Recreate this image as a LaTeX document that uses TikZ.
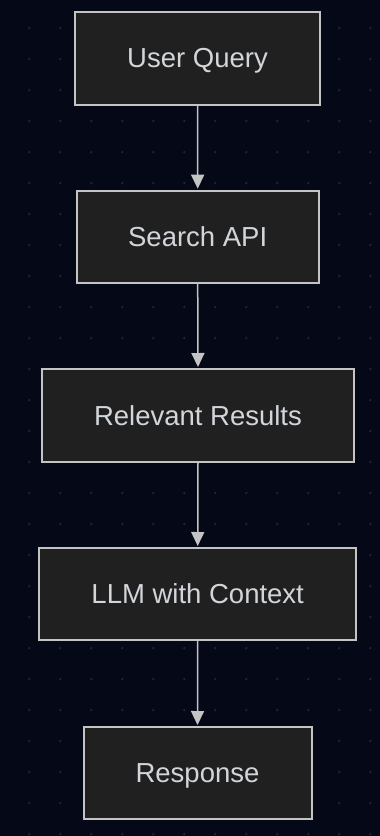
\documentclass[tikz,border=0pt]{standalone}
\usepackage{fontspec}
\setmainfont{Liberation Sans}
\usetikzlibrary{arrows.meta}
\definecolor{bgc}{HTML}{050816}
\definecolor{dotc}{HTML}{22252F}
\definecolor{boxc}{HTML}{202020}
\definecolor{edgec}{HTML}{C4C4C4}
\definecolor{txtc}{HTML}{D2D6DA}
\begin{document}
\begin{tikzpicture}[x=1pt,y=-1pt,
  flowbox/.style={draw=edgec, line width=2pt, fill=boxc, text=txtc, inner sep=0pt,
    text height=19.8pt, text depth=0pt,
    font=\fontsize{27.5}{32}\selectfont},
  flowarrow/.style={draw=edgec, line width=1.5pt, -{Triangle[width=13pt,length=14pt]}, shorten >=1pt}]
\fill[bgc] (0,0) rectangle (380,836);
\useasboundingbox (0,0) rectangle (380,836);
\foreach \i in {0,...,12} {
  \foreach \j in {0,...,26} {
    \fill[dotc] (29.3+31*\i, 28+31*\j) circle (1.3pt);
  }
}
\node[flowbox, minimum width=245pt, minimum height=93pt] (a) at (197.5,58) {User Query};
\node[flowbox, minimum width=242pt, minimum height=92pt] (b) at (197.7,236.7) {Search API};
\node[flowbox, minimum width=312pt, minimum height=93pt] (c) at (198,415.5) {Relevant Results};
\node[flowbox, minimum width=317pt, minimum height=92pt] (d) at (197.7,594) {LLM with Context};
\node[flowbox, minimum width=228pt, minimum height=92pt] (e) at (197.5,773) {Response};
\draw[flowarrow] (a.south) -- (b.north);
\draw[flowarrow] (b.south) -- (c.north);
\draw[flowarrow] (c.south) -- (d.north);
\draw[flowarrow] (d.south) -- (e.north);
\end{tikzpicture}
\end{document}
